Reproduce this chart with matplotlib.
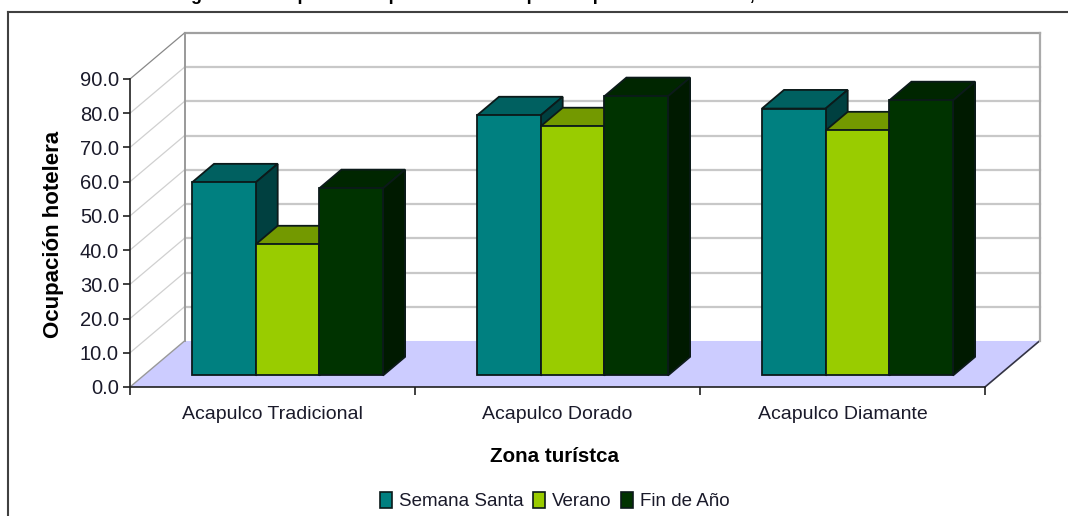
import matplotlib
matplotlib.use('Agg')
import matplotlib.pyplot as plt
from matplotlib.patches import Patch, Polygon

plt.rcParams['font.family'] = ['Liberation Sans', 'DejaVu Sans']

# Data
zones = ['Acapulco Tradicional', 'Acapulco Dorado', 'Acapulco Diamante']
seasons = ['Semana Santa', 'Verano', 'Fin de Año']
semana_santa = [56.4, 76.0, 78.0]
verano = [38.3, 72.8, 71.6]
fin_de_ano = [54.7, 81.6, 80.4]
y_ticks = [0, 10, 20, 30, 40, 50, 60, 70, 80, 90]
title = 'Figura 4.1 Acapulco: ocupación hotelera por temporada vacacional, 1999'

# Colours: front, top, side
teal = ('#008080', '#006060', '#004040')
lime = ('#99cc00', '#739900', '#4d6600')
dark = ('#003300', '#002600', '#001a00')
edge = '#0c1a1a'

W, H = 1068, 516
fig = plt.figure(figsize=(W / 100, H / 100), dpi=100)
ax = fig.add_axes([130 / W, 1 - 387 / H, 855 / W, 308 / H])
ax.set_xlim(0, 3)
ax.set_ylim(0, 90)
ax.patch.set_visible(False)

# depth of the box, in data units
DX = 54.5 / 285
DY = 46 / 3.42


def proj(x, y, d):
    return (x + d * DX, y + d * DY)


def face(pts, color, ec=edge, lw=1.3, z=3):
    ax.add_patch(Polygon(pts, closed=True, fc=color, ec=ec, lw=lw, clip_on=False,
                         zorder=z, joinstyle='miter'))


# floor
face([proj(0, 0, 0), proj(3, 0, 0), proj(3, 0, 1), proj(0, 0, 1)], '#ccccff', ec='none', lw=0, z=1)
ax.plot(*zip(proj(3, 0, 0), proj(3, 0, 1)), color='#333344', lw=1.2, clip_on=False, zorder=1.5)

# walls and grid
for v in y_ticks[1:]:
    is_top = v == y_ticks[-1]
    xs, ys = zip(proj(0, v, 0), proj(0, v, 1), proj(3, v, 1))
    ax.plot(xs[:2], ys[:2], color='#888888' if is_top else '#d0d0d0', lw=0.9, clip_on=False, zorder=1)
    ax.plot(xs[1:], ys[1:], color='#a0a0a0' if is_top else '#c8c8c8', lw=1.6, clip_on=False, zorder=1)
ax.plot(*zip(proj(0, 0, 0), proj(0, 0, 1)), color='#999999', lw=1.0, clip_on=False, zorder=1.6)
ax.plot(*zip(proj(0, 0, 1), proj(0, 90, 1)), color='#999999', lw=1.4, clip_on=False, zorder=1.6)
ax.plot(*zip(proj(3, 0, 1), proj(3, 90, 1)), color='#aaaaaa', lw=1.6, clip_on=False, zorder=1.6)

# bars, left to right
bar_w = 0.2235
d0, d1 = 0.25, 0.655
z = 3
for i in range(len(zones)):
    for j, (vals, cols) in enumerate(zip([semana_santa, verano, fin_de_ano], [teal, lime, dark])):
        x0 = i + 0.1695 + j * bar_w
        x1 = x0 + bar_w
        v = vals[i]
        face([proj(x0, 0, d0), proj(x1, 0, d0), proj(x1, v, d0), proj(x0, v, d0)], cols[0], z=z + 0.2)
        face([proj(x0, v, d0), proj(x1, v, d0), proj(x1, v, d1), proj(x0, v, d1)], cols[1], z=z)
        face([proj(x1, 0, d0), proj(x1, 0, d1), proj(x1, v, d1), proj(x1, v, d0)], cols[2], z=z + 0.1)
        z += 1

# axes
for s in ['top', 'right']:
    ax.spines[s].set_visible(False)
for s in ['left', 'bottom']:
    ax.spines[s].set_color('#202020')
    ax.spines[s].set_linewidth(1.2)
    ax.spines[s].set_zorder(50)
ax.set_yticks(y_ticks)
ax.set_yticklabels([f'{v:.1f}' for v in y_ticks], fontsize=14.5, color='#1a1a2a', va='center_baseline')
ax.set_xticks([0, 1, 2, 3])
ax.set_xticklabels([])
ax.set_xticks([0.5, 1.5, 2.5], minor=True)
ax.set_xticklabels(zones, minor=True, fontsize=14, color='#1a1a2a')
ax.tick_params(axis='x', which='minor', length=0, pad=14)
ax.tick_params(axis='x', which='major', length=6, width=1.2, color='#202020')
ax.tick_params(axis='y', length=5, width=1.2, color='#202020', pad=3)

fig.text(54 / W, 1 - 234 / H, 'Ocupación hotelera', rotation=90, ha='center', va='center',
         fontsize=16, fontweight='bold', color='black')
fig.text(555 / W, 1 - 457 / H, 'Zona turístca', ha='center', va='center',
         fontsize=14.8, fontweight='bold', color='black')

handles = [Patch(fc=c[0], ec=edge, lw=1.2) for c in (teal, lime, dark)]
fig.legend(handles, seasons, loc='center', bbox_to_anchor=(555 / W, 1 - 501 / H), ncol=3, frameon=False,
           fontsize=13.5, handlelength=0.62, handleheight=1.0, handletextpad=0.4, columnspacing=0.5,
           labelcolor='#1a1a2a')

# cut-off caption and frame of the page
fig.text(175 / W, 1 - 0.5 / H, title, ha='left', va='baseline', fontsize=13, fontweight='bold', color='black')
fig.add_artist(plt.Line2D([8 / W, 1], [1 - 12 / H, 1 - 12 / H], color='#404040', lw=1.5))
fig.add_artist(plt.Line2D([8 / W, 8 / W], [0, 1 - 12 / H], color='#404040', lw=1.5))

plt.savefig('out.png', dpi=100)
